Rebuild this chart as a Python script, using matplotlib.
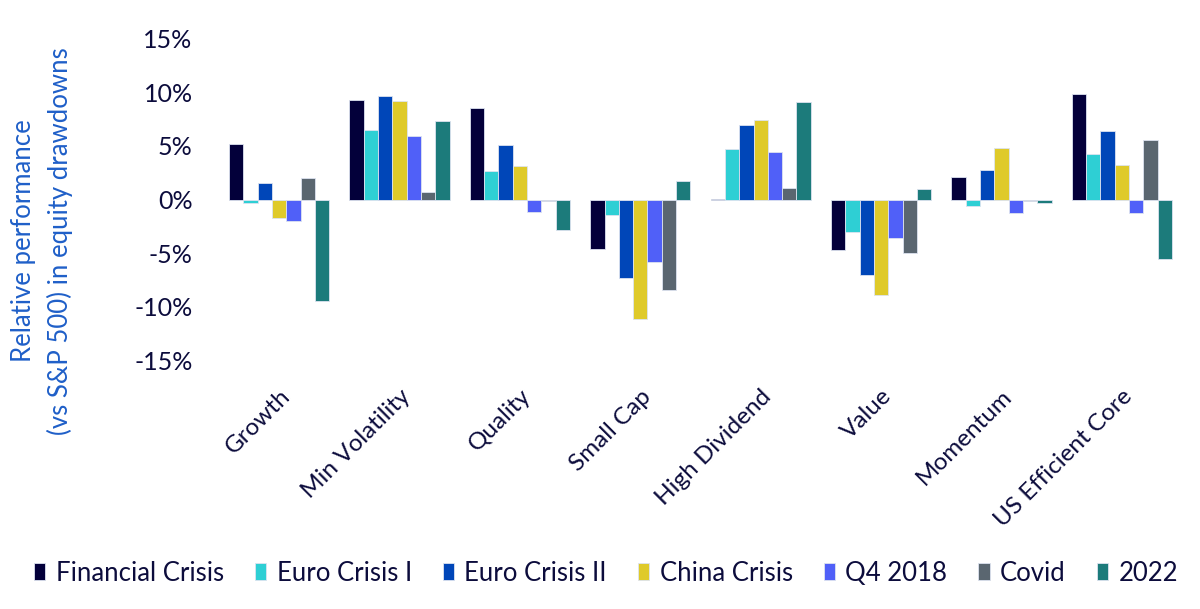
import matplotlib.pyplot as plt
import numpy as np

plt.rcParams['font.family'] = ['Lato', 'DejaVu Sans']

# data
categories = ['Growth', 'Min Volatility', 'Quality', 'Small Cap', 'High Dividend',
              'Value', 'Momentum', 'US Efficient Core']
series = ['Financial Crisis', 'Euro Crisis I', 'Euro Crisis II', 'China Crisis',
          'Q4 2018', 'Covid', '2022']
financial_crisis = [5.2, 9.3, 8.5, -4.6, 0.05, -4.7, 2.1, 9.8]
euro_crisis_1 = [-0.35, 6.5, 2.7, -1.4, 4.7, -3.0, -0.65, 4.2]
euro_crisis_2 = [1.55, 9.6, 5.1, -7.3, 6.9, -7.0, 2.75, 6.4]
china_crisis = [-1.75, 9.15, 3.15, -11.1, 7.4, -8.85, 4.8, 3.2]
q4_2018 = [-2.0, 5.9, -1.2, -5.8, 4.4, -3.55, -1.3, -1.3]
covid = [2.05, 0.7, -0.1, -8.45, 1.05, -4.95, -0.1, 5.55]
y2022 = [-9.45, 7.35, -2.85, 1.7, 9.05, 1.0, -0.3, -5.55]
values = [financial_crisis, euro_crisis_1, euro_crisis_2, china_crisis,
          q4_2018, covid, y2022]
colors = ['#03003a', '#2ecfd4', '#0046b8', '#dfca2a', '#5060f8', '#5a6670', '#1c7b7b']
yticks = [-15, -10, -5, 0, 5, 10, 15]

navy = '#0c0c3c'

fig = plt.figure(figsize=(12, 6.09), dpi=100)
ax = fig.add_axes([0.1825, 0.408, 0.8025, 0.5288])

x = np.arange(len(categories))
w = 0.119
for i, (name, vals, c) in enumerate(zip(series, values, colors)):
    ax.bar(x + (i - 3) * w, vals, width=w, color=c, label=name,
           edgecolor='#dde3f0', linewidth=0.6)

ax.set_xlim(-0.5, len(categories) - 0.5)
ax.set_ylim(-15, 15)
ax.set_yticks(yticks)
ax.set_yticklabels([f'{t}%' for t in yticks], fontsize=18, color=navy)
ax.tick_params(axis='y', length=0, pad=19)
ax.set_xticks(x)
ax.set_xticklabels(categories, rotation=45, ha='right', rotation_mode='anchor',
                   fontsize=17.5, color=navy)
ax.tick_params(axis='x', length=0, pad=18)
for s in ax.spines.values():
    s.set_visible(False)

# y label
fig.text(0.035, 1 - 241 / 609, 'Relative performance\n(vs S&P 500) in equity drawdowns',
         rotation=90, ha='center', va='center', fontsize=18.5, color='#1f5fc8',
         linespacing=1.5)

leg = fig.legend(loc='center', bbox_to_anchor=(0.505, 0.059), ncol=7, frameon=False,
                 fontsize=18.5, handlelength=0.45, handleheight=0.62,
                 handletextpad=0.4, columnspacing=1.2)
for t in leg.get_texts():
    t.set_color(navy)

plt.savefig('out.png', dpi=100)
